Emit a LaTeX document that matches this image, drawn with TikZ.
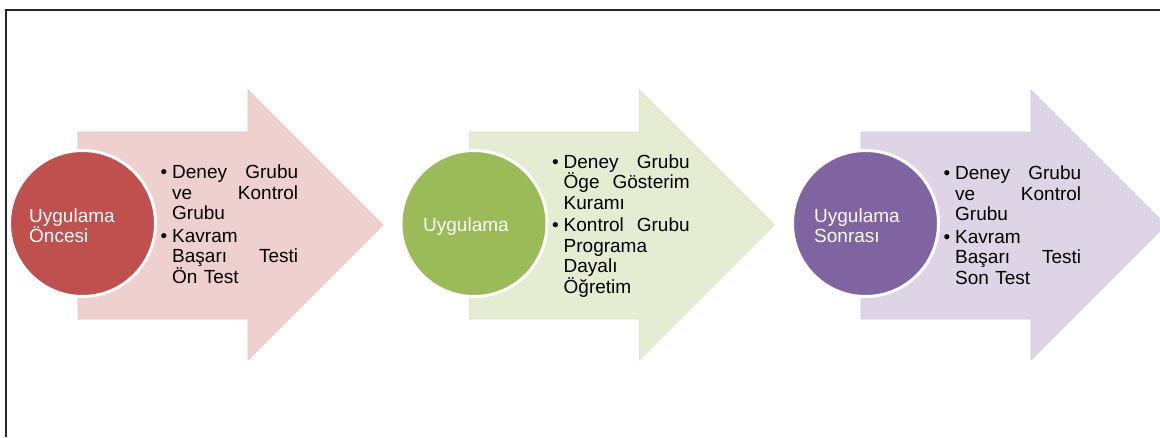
\documentclass[tikz,border=0pt]{standalone}
\usepackage{fontspec}
\setmainfont{Liberation Sans}
\definecolor{cred}{HTML}{C0504D}
\definecolor{cgreen}{HTML}{9BBB59}
\definecolor{cpurple}{HTML}{8064A2}
\begin{document}
\begin{tikzpicture}[x=1pt,y=-1pt,
  arrowfill/.style={fill=#1!27!white, draw=#1!36!white, line width=0.6pt},
  stage/.style={circle, inner sep=0pt, minimum size=146pt, fill=#1, draw=white, line width=3pt},
  ctext/.style={anchor=base west, inner sep=0pt, text=white, align=left, font=\fontsize{19}{20.5}\selectfont},
  item/.style={anchor=base west, inner sep=0pt, text width=126pt, align=left, font=\fontsize{19}{20.5}\selectfont},
  bul/.style={anchor=base west, inner sep=0pt, font=\fontsize{19}{20.5}\selectfont},
  frame/.style={line width=1.6pt, draw=black!85}]
\useasboundingbox (0,0) rectangle (1160,437);
\clip (0,0) rectangle (1160,437);
\draw[frame] (6,437) -- (6,10) -- (1160,10);
% arrows
\path[arrowfill=cred] (78,132) -- (248,132) -- (248,90) -- (383,225) -- (248,360) -- (248,319) -- (78,319) -- cycle;
\path[arrowfill=cgreen, xshift=391.5pt] (78,132) -- (248,132) -- (248,90) -- (383,225) -- (248,360) -- (248,319) -- (78,319) -- cycle;
\path[arrowfill=cpurple, xshift=783pt] (78,132) -- (248,132) -- (248,90) -- (383,225) -- (248,360) -- (248,319) -- (78,319) -- cycle;
% circles
\node[stage=cred] (c1) at (82.5,223.5) {};
\node[stage=cgreen] (c2) at (474,223.5) {};
\node[stage=cpurple] (c3) at (865.5,223.5) {};
\node[ctext] (c1t) at (29,242.5) {Uygulama\\Öncesi};
\node[ctext] (c2t) at (423,231) {Uygulama};
\node[ctext] (c3t) at (814,242.5) {Uygulama\\Sonrası};
% stage 1 items
\node[bul] (b1a) at (160.5,178.5) {•};
\node[item] (i1a) at (172,178.5) {Deney\hfill Grubu\\ve\hfill Kontrol\\Grubu};
\node[bul] (b1b) at (160.5,242) {•};
\node[item] (i1b) at (172,242) {Kavram\\Başarı\hfill Testi\\Ön Test};
% stage 2 items
\node[bul] (b2a) at (552,168.25) {•};
\node[item] (i2a) at (563.5,168.25) {Deney\hfill Grubu\\Öge\hfill Gösterim\\Kuramı};
\node[bul] (b2b) at (552,231.75) {•};
\node[item] (i2b) at (563.5,231.75) {Kontrol\hfill Grubu\\Programa\\Dayalı\\Öğretim};
% stage 3 items
\node[bul] (b3a) at (943.5,179.5) {•};
\node[item] (i3a) at (955,179.5) {Deney\hfill Grubu\\ve\hfill Kontrol\\Grubu};
\node[bul] (b3b) at (943.5,243) {•};
\node[item] (i3b) at (955,243) {Kavram\\Başarı\hfill Testi\\Son Test};
\end{tikzpicture}
\end{document}
